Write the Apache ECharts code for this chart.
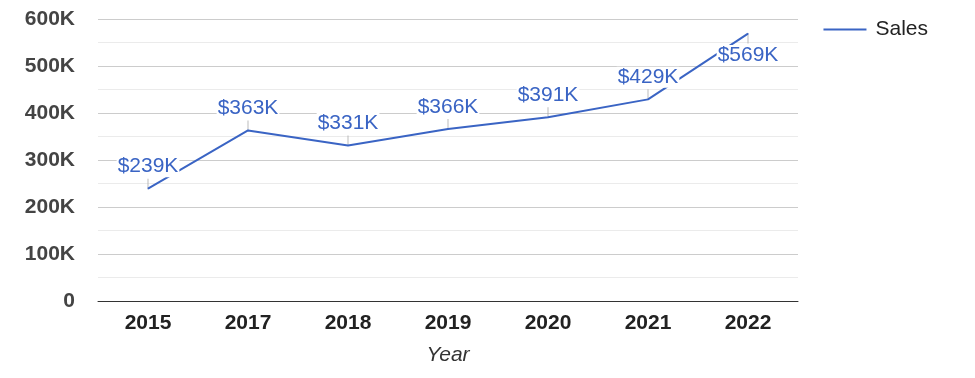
<!DOCTYPE html>
<html>
<head>
<meta charset="utf-8">
<script src="https://cdn.jsdelivr.net/npm/echarts@6/dist/echarts.min.js"></script>
<style>
    html, body { margin: 0; padding: 0; background: #fff; }
    #chart { width: 975px; height: 378px; }
</style>
</head>
<body>
<div id="chart"></div>
<script>
    // chart data
    const years = ['2015', '2017', '2018', '2019', '2020', '2021', '2022']
    const sales = [239000, 363000, 331000, 366000, 391000, 429000, 569000]
    const salesLabels = ['$239K', '$363K', '$331K', '$366K', '$391K', '$429K', '$569K']
    const labelBelow = [false, false, false, false, false, false, true]

    const lineColor = '#3a64c4'
    const font = 'Arial, "Liberation Sans", sans-serif'

    const myChart = echarts.init(document.getElementById('chart'))

    const lineData = sales.map((v, i) => ({
        value: v,
        label: {
            position: labelBelow[i] ? 'bottom' : 'top',
            distance: 11
        }
    }))
    const tickData = sales.map((v, i) => ({
        value: v,
        symbolOffset: [0, labelBelow[i] ? 5 : -5]
    }))

    const option = {
        animation: false,
        grid: {
            left: 98,
            right: 177,
            top: 19,
            bottom: 77
        },
        legend: {
            data: ['Sales'],
            right: 42,
            top: 14,
            itemWidth: 43,
            itemHeight: 2,
            icon: 'rect',
            textStyle: {
                fontFamily: font,
                fontSize: 21,
                color: '#222',
                padding: [0, 0, 0, 4]
            }
        },
        xAxis: {
            type: 'category',
            data: years,
            name: 'Year',
            nameLocation: 'middle',
            nameGap: 44,
            nameTextStyle: {
                fontFamily: font,
                fontStyle: 'italic',
                fontSize: 21,
                color: '#333'
            },
            axisLine: {
                lineStyle: { color: '#333', width: 1 }
            },
            axisTick: { show: false },
            axisLabel: {
                fontFamily: font,
                fontWeight: 'bold',
                fontSize: 21,
                color: '#222',
                margin: 12
            }
        },
        yAxis: {
            type: 'value',
            min: 0,
            max: 600000,
            interval: 100000,
            axisLine: { show: false },
            axisTick: { show: false },
            axisLabel: {
                fontFamily: font,
                fontWeight: 'bold',
                fontSize: 21,
                color: '#444',
                margin: 23,
                formatter: v => v === 0 ? '0' : (v / 1000) + 'K'
            },
            splitLine: {
                lineStyle: { color: '#cccccc' }
            },
            minorTick: { show: false, splitNumber: 2 },
            minorSplitLine: {
                show: true,
                lineStyle: { color: '#ebebeb' }
            }
        },
        series: [
            {
                name: 'Sales',
                type: 'line',
                data: lineData,
                color: lineColor,
                symbol: 'circle',
                symbolSize: 1,
                showSymbol: true,
                lineStyle: { width: 2, color: lineColor },
                z: 3,
                label: {
                    show: true,
                    fontFamily: font,
                    fontSize: 21,
                    color: '#3a64c4',
                    backgroundColor: '#fff',
                    padding: [0, 1],
                    formatter: p => salesLabels[p.dataIndex]
                }
            },
            {
                // small leader tick between point and label
                name: 'tick',
                type: 'scatter',
                data: tickData,
                symbol: 'rect',
                symbolSize: [1, 10],
                itemStyle: { color: '#aaaaaa' },
                silent: true,
                z: 2
            }
        ]
    }
    myChart.setOption(option)
</script>
</body>
</html>
